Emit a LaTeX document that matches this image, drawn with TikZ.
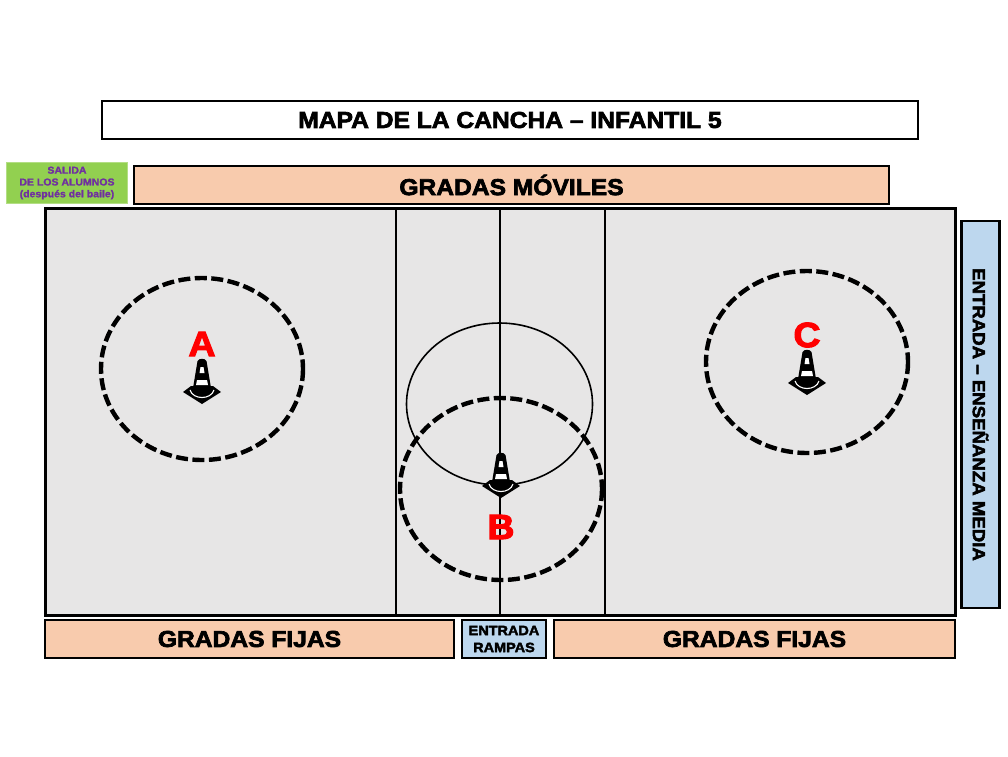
\documentclass[tikz,border=0pt]{standalone}
\usepackage{fontspec}
\setmainfont{Liberation Sans Bold}[FakeBold=3,FakeStretch=1.07]
\newfontfamily\plainbold{Liberation Sans Bold}[FakeBold=1.5,FakeStretch=1.05]
\definecolor{gradas}{HTML}{F8CBAD}
\definecolor{entrada}{HTML}{BDD7EE}
\definecolor{salida}{HTML}{92D050}
\definecolor{salidatext}{HTML}{7030A0}
\definecolor{cancha}{HTML}{E7E6E6}
\tikzset{
	banner/.style={draw=black, line width=2.6pt, fill=white, inner sep=0pt, font=\fontsize{23}{23}\selectfont},
	grada/.style={banner, fill=gradas},
	entradabox/.style={banner, fill=entrada},
	ronda/.style={draw=black, line width=4.4pt, dash pattern=on 12pt off 4.5pt},
	letra/.style={text=red, inner sep=0pt, font=\fontsize{35}{35}\selectfont},
	pics/cono/.style={code={
		\fill[black] (-19,0) -- (-11,-6) -- (11,-6) -- (19,0) -- (0,12) -- cycle;
		\fill[black] (-10,2) -- (-4.5,-31) .. controls (-3,-34) and (3,-34) .. (4.5,-31) -- (10,2) .. controls (4,5) and (-4,5) .. (-10,2) -- cycle;
		\draw[white, line width=1.1pt] (-12,-2) .. controls (-9,8) and (9,8) .. (12,-2);
		\fill[white] (-1.5,-25) -- (1.5,-25) -- (2.5,-19) -- (-2.5,-19) -- cycle;
		\fill[white] (-5,-12) -- (5,-12) -- (6,-7) -- (-6,-7) -- cycle;
	}}
}
\begin{document}
\begin{tikzpicture}[x=1pt, y=-1pt]
	\useasboundingbox (0,0) rectangle (1008,756);

	\node[banner, minimum width=816pt, minimum height=38pt] (titulo) at (510,120) {MAPA DE LA CANCHA – INFANTIL 5};
	\node[grada, minimum width=755pt, minimum height=38pt] (moviles) at (511.5,185) {GRADAS MÓVILES};
	\node[draw=salida!70!white, line width=1pt, fill=salida, minimum width=121pt, minimum height=41pt, inner sep=0pt, align=center, text=salidatext, font=\plainbold\fontsize{10}{11.8}\selectfont] (salida) at (67,183) {SALIDA\\DE LOS ALUMNOS\\(después del baile)};

	\node[draw=black, line width=3pt, fill=cancha, minimum width=910pt, minimum height=407pt, inner sep=0pt] (cancha) at (500,411.5) {};
	\coordinate (arribaI) at (396,208);
	\coordinate (abajoI) at (396,615);
	\coordinate (arribaM) at (499.5,208);
	\coordinate (abajoM) at (499.5,615);
	\coordinate (arribaD) at (605,208);
	\coordinate (abajoD) at (605,615);
	\draw[line width=2pt] (arribaI) -- (abajoI);
	\draw[line width=2pt] (arribaM) -- (abajoM);
	\draw[line width=2pt] (arribaD) -- (abajoD);
	\draw[line width=1.6pt] (499.5,404) ellipse (93 and 81);

	\draw[ronda] (202,369) ellipse (101 and 91);
	\draw[ronda] (501,489) ellipse (101 and 91);
	\draw[ronda] (807,362) ellipse (101 and 91);

	\pic at (202,392) {cono};
	\pic at (501,486) {cono};
	\pic at (807,383) {cono};

	\node[letra] (letraA) at (202,344) {A};
	\node[letra] (letraB) at (501,527) {B};
	\node[letra] (letraC) at (807,335) {C};

	\node[grada, minimum width=409pt, minimum height=38pt] (fijasI) at (249.5,639) {GRADAS FIJAS};
	\node[entradabox, minimum width=84pt, minimum height=38pt, align=center, font=\fontsize{13.5}{17}\selectfont] (rampas) at (504,639) {ENTRADA\\RAMPAS};
	\node[grada, minimum width=401pt, minimum height=38pt] (fijasD) at (754.5,639) {GRADAS FIJAS};
	\node[entradabox, minimum width=387pt, minimum height=38pt, rotate=-90, font=\fontsize{17.4}{17.4}\selectfont] (media) at (980.5,414.5) {ENTRADA – ENSEÑANZA MEDIA};
\end{tikzpicture}
\end{document}
